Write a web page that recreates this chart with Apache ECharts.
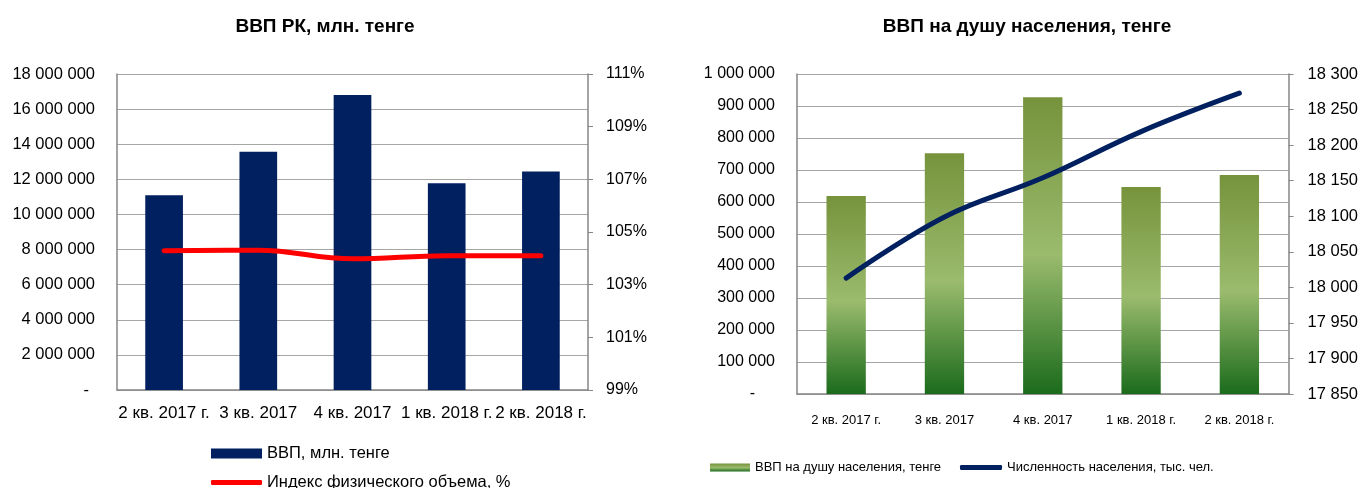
<!DOCTYPE html>
<html lang="ru">
<head>
<meta charset="UTF-8">
<title>ВВП</title>
<script src="https://cdn.jsdelivr.net/npm/echarts@6/dist/echarts.min.js"></script>
<style>
  html, body { margin: 0; padding: 0; background: #fff; }
  #chart { width: 1361px; height: 488px; }
</style>
</head>
<body>
<div id="chart"></div>
<script>
// данные
const quarters = ['2 кв. 2017 г.', '3 кв. 2017', '4 кв. 2017', '1 кв. 2018 г.', '2 кв. 2018 г.'];
const gdp = [11100000, 13570000, 16800000, 11770000, 12440000];          // ВВП, млн. тенге
const volumeIndex = [104.29, 104.31, 103.98, 104.1, 104.1];            // Индекс физического объема, %
const gdpPerCapita = [619000, 752000, 927000, 647000, 684000];         // ВВП на душу населения, тенге
const population = [18013, 18099, 18154, 18219, 18273];                // Численность населения, тыс. чел.

const FONT = '"Liberation Sans", Arial, sans-serif';
const GRID_COLOR = '#a6a6a6';
const AXIS_COLOR = '#868686';

function spaced(v) {
  return String(v).replace(/\B(?=(\d{3})+(?!\d))/g, ' ');
}

const chart = echarts.init(document.getElementById('chart'));

const greenGrad = new echarts.graphic.LinearGradient(0, 0, 0, 1, [
  { offset: 0, color: '#76933c' },
  { offset: 0.53, color: '#9bbb6d' },
  { offset: 1, color: '#1b6b1c' }
]);

const axisLine = { show: true, lineStyle: { color: AXIS_COLOR, width: 1.5 } };

// одна легенда на каждый элемент, чтобы задать свои размеры значков
function legendItem(name, left, top, w, h, fontSize) {
  return {
    orient: 'horizontal', left: left, top: top, itemWidth: w, itemHeight: h, itemGap: 5,
    icon: h < 7 ? 'roundRect' : 'rect',
    textStyle: { fontFamily: FONT, fontSize: fontSize, color: '#000' },
    data: [name]
  };
}

chart.setOption({
  animation: false,
  textStyle: { fontFamily: FONT, color: '#000' },
  title: [
    { text: 'ВВП РК, млн. тенге', left: 320, top: 12, textAlign: 'center',
      textStyle: { fontFamily: FONT, fontSize: 19, fontWeight: 'bold', color: '#000' } },
    { text: 'ВВП на душу населения, тенге', left: 1022, top: 12, textAlign: 'center',
      textStyle: { fontFamily: FONT, fontSize: 19, fontWeight: 'bold', color: '#000' } }
  ],
  legend: [
    legendItem('ВВП, млн. тенге', 206, 440, 51, 10, 16.5),
    legendItem('Индекс физического объема, %', 206, 469, 51, 5, 16.5),
    legendItem('ВВП на душу населения, тенге', 705, 456, 40, 8, 13),
    legendItem('Численность населения, тыс. чел.', 955, 456, 42, 5, 13)
  ],
  grid: [
    { left: 117, right: 773, top: 74, bottom: 98 },
    { left: 797, right: 72, top: 74, bottom: 94 }
  ],
  xAxis: [
    {
      type: 'category', gridIndex: 0, data: quarters,
      axisLine: axisLine, axisTick: { show: false },
      axisLabel: { interval: 0, margin: 15, fontSize: 17, color: '#000', fontFamily: FONT }
    },
    {
      type: 'category', gridIndex: 1, data: quarters,
      axisLine: axisLine, axisTick: { show: false },
      axisLabel: { interval: 0, margin: 20, fontSize: 13, color: '#000', fontFamily: FONT }
    }
  ],
  yAxis: [
    {
      type: 'value', gridIndex: 0, position: 'left', min: 0, max: 18000000, interval: 2000000,
      axisLine: axisLine, axisTick: { show: false },
      splitLine: { lineStyle: { color: GRID_COLOR, width: 1 } },
      axisLabel: {
        margin: 22, fontSize: 16.5, color: '#000', fontFamily: FONT,
        formatter: v => v === 0 ? '{z|-}' : spaced(v),
        rich: { z: { fontSize: 16.5, padding: [0, 6, 0, 0], fontFamily: FONT } }
      }
    },
    {
      type: 'value', gridIndex: 0, position: 'right', min: 99, max: 111, interval: 2,
      axisLine: axisLine, axisTick: { show: true, length: 5, lineStyle: { color: AXIS_COLOR } },
      splitLine: { show: false },
      axisLabel: { margin: 18, fontSize: 16, color: '#000', fontFamily: FONT, formatter: v => v + '%' }
    },
    {
      type: 'value', gridIndex: 1, position: 'left', min: 0, max: 1000000, interval: 100000,
      axisLine: axisLine, axisTick: { show: false },
      splitLine: { lineStyle: { color: GRID_COLOR, width: 1 } },
      axisLabel: {
        margin: 22, fontSize: 16, color: '#000', fontFamily: FONT,
        formatter: v => v === 0 ? '{z|-}' : spaced(v),
        rich: { z: { fontSize: 16, padding: [0, 20, 0, 0], fontFamily: FONT } }
      }
    },
    {
      type: 'value', gridIndex: 1, position: 'right', min: 17850, max: 18300, interval: 50,
      axisLine: axisLine, axisTick: { show: true, length: 5, lineStyle: { color: AXIS_COLOR } },
      splitLine: { show: false },
      axisLabel: { margin: 19, fontSize: 16.5, color: '#000', fontFamily: FONT, formatter: v => spaced(v) }
    }
  ],
  series: [
    {
      name: 'ВВП, млн. тенге', type: 'bar', xAxisIndex: 0, yAxisIndex: 0,
      data: gdp, barWidth: '40%', itemStyle: { color: '#002060' }
    },
    {
      name: 'Индекс физического объема, %', type: 'line', xAxisIndex: 0, yAxisIndex: 1,
      data: volumeIndex, smooth: 0.4, symbol: 'none',
      lineStyle: { color: '#ff0000', width: 5, cap: 'round' }, itemStyle: { color: '#ff0000' }
    },
    {
      name: 'ВВП на душу населения, тенге', type: 'bar', xAxisIndex: 1, yAxisIndex: 2,
      data: gdpPerCapita, barWidth: '40%', itemStyle: { color: greenGrad }
    },
    {
      name: 'Численность населения, тыс. чел.', type: 'line', xAxisIndex: 1, yAxisIndex: 3,
      data: population, smooth: 0.4, symbol: 'none',
      lineStyle: { color: '#002060', width: 5, cap: 'round' }, itemStyle: { color: '#002060' }
    }
  ]
});
</script>
</body>
</html>
